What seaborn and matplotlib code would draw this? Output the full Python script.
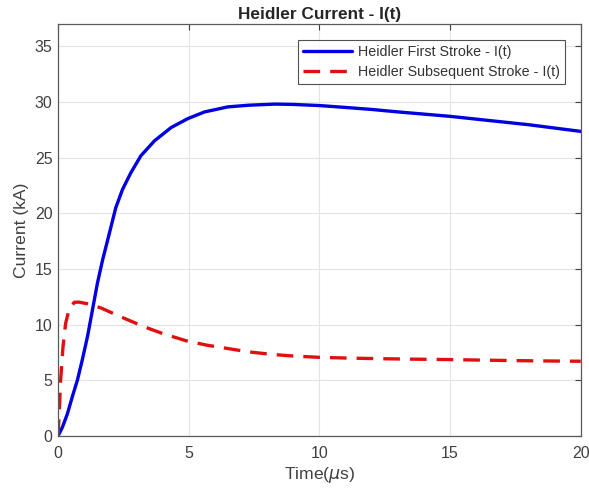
import pandas as pd
import matplotlib
matplotlib.use('Agg')
import matplotlib.pyplot as plt
import seaborn as sns

# values
t_first = [0, 0.17, 0.36, 0.55, 0.74, 0.93, 1.13, 1.32, 1.51, 1.71, 1.9, 2.05, 2.21, 2.47,
           2.79, 3.17, 3.69, 4.33, 4.97, 5.61, 6.5, 7.3, 8.3, 9.0, 10, 11, 12, 13, 14, 15,
           16, 17, 18, 19, 20]
i_first = [0, 0.8, 2.0, 3.55, 5.0, 6.85, 8.95, 11.35, 13.75, 15.85, 17.6, 19.0, 20.5, 22.15,
           23.65, 25.16, 26.5, 27.7, 28.5, 29.1, 29.55, 29.7, 29.8, 29.77, 29.67, 29.5, 29.32,
           29.1, 28.9, 28.7, 28.45, 28.2, 27.95, 27.65, 27.35]

t_sub = [0, 0.04, 0.1, 0.19, 0.29, 0.42, 0.62, 0.8, 1.13, 1.64, 2.4, 3.3, 4.0, 4.9, 5.7,
         6.5, 7.3, 8.2, 9.0, 10, 11, 12.3, 13.5, 15, 16, 17.4, 18.5, 20]
i_sub = [0, 1.75, 5.0, 8.0, 10.1, 11.35, 12.0, 12.02, 11.87, 11.5, 10.7, 9.8, 9.2, 8.55, 8.15,
         7.85, 7.55, 7.32, 7.18, 7.06, 7.0, 6.94, 6.9, 6.86, 6.82, 6.77, 6.74, 6.71]

first_df = pd.DataFrame({'t': t_first, 'I': i_first})
sub_df = pd.DataFrame({'t': t_sub, 'I': i_sub})

sns.set_style('white')
plt.rcParams['font.family'] = ['Liberation Sans', 'DejaVu Sans']
plt.rcParams['mathtext.fontset'] = 'dejavusans'

fig = plt.figure(figsize=(5.89, 4.88), dpi=100)
ax = fig.add_axes([0.0985, 0.1066, 0.8875, 0.8444])

sns.lineplot(data=first_df, x='t', y='I', ax=ax, color='#0000e0', linewidth=2.4,
             label='Heidler First Stroke - I(t)')
sns.lineplot(data=sub_df, x='t', y='I', ax=ax, color='#e01010', linewidth=2.4,
             label='Heidler Subsequent Stroke - I(t)')
ax.lines[1].set_dashes([5, 3])

ax.set_xlim(0, 20)
ax.set_ylim(0, 37)
ax.set_xticks([0, 5, 10, 15, 20])
ax.set_yticks([0, 5, 10, 15, 20, 25, 30, 35])
ax.grid(True, color='#e4e4e4', linewidth=0.8)
ax.tick_params(direction='in', length=4, width=0.8, colors='#404040', labelsize=11.5,
               top=True, right=True, labeltop=False, labelright=False)
ax.tick_params(axis='x', pad=7)
ax.tick_params(axis='y', pad=4)
for s in ax.spines.values():
    s.set_color('#5a5a5a')
    s.set_linewidth(0.9)

ax.set_title('Heidler Current - I(t)', fontsize=12.4, fontweight='bold', pad=3.5)
ax.set_xlabel('Time($\\mu$s)', fontsize=12.6, color='#404040', labelpad=3)
ax.set_ylabel('Current (kA)', fontsize=12.6, color='#404040', labelpad=4)

leg = ax.legend(loc='upper right', bbox_to_anchor=(0.97, 0.962), fontsize=10.3,
                frameon=True, fancybox=False, edgecolor='#262626', handlelength=3.4,
                borderpad=0.35, labelspacing=0.45, handletextpad=0.45, borderaxespad=0)
leg.get_frame().set_linewidth(0.8)
for text in leg.get_texts():
    text.set_color('#333333')
for line in leg.get_lines():
    line.set_linewidth(2.4)

fig.savefig('out.png', dpi=100)
